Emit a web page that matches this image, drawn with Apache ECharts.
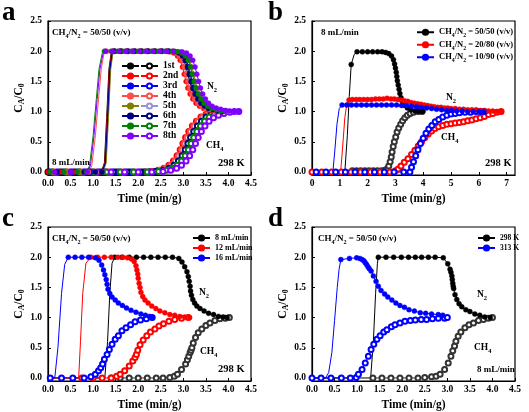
<!DOCTYPE html>
<html><head><meta charset="utf-8">
<script src="https://cdn.jsdelivr.net/npm/echarts@6/dist/echarts.min.js"></script>
<style>html,body{margin:0;padding:0;background:#fff}#c{width:529px;height:412px}</style>
</head><body><div id="c"></div>
<script>
// ---------- tick values ----------
const xTicksA = [0,0.5,1,1.5,2,2.5,3,3.5,4,4.5];
const xTicksB = [0,1,2,3,4,5,6,7];
const yTicks = [0,0.5,1,1.5,2,2.5];

// ---------- panel a (8 cycles) ----------
const aNames = ['1st','2nd','3rd','4th','5th','6th','7th','8th'];
const aN2_1 = [[0,0],[0.3,0],[0.6,0],[0.9,0],[1.18,0],[1.45,2],[1.6,2],[1.75,2],[1.9,2],[2.05,2],[2.2,2],[2.35,2],[2.5,2],[2.65,2],[2.77,1.99],[2.87,1.97],[2.95,1.92],[3.01,1.85],[3.06,1.74],[3.1,1.62],[3.14,1.5],[3.18,1.39],[3.23,1.29],[3.29,1.21],[3.36,1.14],[3.44,1.09],[3.53,1.05],[3.63,1.03],[3.73,1.01],[3.83,1.0]];
const aRise_1 = [[1.25,0.15],[1.3,0.9],[1.35,1.7],[1.4,1.97]];
const aCH4_1 = [[0,0],[0.3,0],[0.6,0],[0.9,0],[1.2,0],[1.5,0],[1.8,0],[2.1,0],[2.35,0.01],[2.52,0.03],[2.65,0.06],[2.76,0.11],[2.86,0.18],[2.94,0.27],[3.01,0.37],[3.07,0.47],[3.13,0.57],[3.2,0.67],[3.28,0.76],[3.37,0.84],[3.47,0.91],[3.58,0.95],[3.7,0.98],[3.83,1.0]];
const aN2_2 = [[0,0],[0.3,0],[0.6,0],[0.9,0],[1.19,0],[1.46,2],[1.61,2],[1.76,2],[1.91,2],[2.06,2],[2.21,2],[2.36,2],[2.51,2],[2.69,1.99],[2.79,1.97],[2.87,1.92],[2.93,1.85],[2.98,1.74],[3.02,1.62],[3.06,1.5],[3.1,1.39],[3.15,1.29],[3.21,1.21],[3.28,1.14],[3.36,1.09],[3.45,1.05],[3.55,1.03],[3.65,1.01],[3.75,1.0]];
const aRise_2 = [[1.26,0.15],[1.31,0.9],[1.36,1.7],[1.41,1.97]];
const aCH4_2 = [[0.1,0],[0.4,0],[0.7,0],[1.0,0],[1.3,0],[1.6,0],[1.9,0],[2.15,0],[2.27,0.01],[2.44,0.03],[2.57,0.06],[2.68,0.11],[2.78,0.18],[2.86,0.27],[2.93,0.37],[2.99,0.47],[3.05,0.57],[3.12,0.67],[3.2,0.76],[3.29,0.84],[3.39,0.91],[3.5,0.95],[3.62,0.98],[3.75,1.0]];
const aN2_3 = [[0.05,0],[0.35,0],[0.65,0],[0.95,0],[1.21,0],[1.48,2],[1.63,2],[1.78,2],[1.93,2],[2.08,2],[2.23,2],[2.38,2],[2.53,2],[2.68,2],[2.83,1.99],[2.93,1.97],[3.01,1.92],[3.07,1.85],[3.12,1.74],[3.16,1.62],[3.2,1.5],[3.24,1.39],[3.29,1.29],[3.35,1.21],[3.42,1.14],[3.5,1.09],[3.59,1.05],[3.69,1.03],[3.79,1.01],[3.89,1.0]];
const aRise_3 = [[1.28,0.15],[1.33,0.9],[1.38,1.7],[1.43,1.97]];
const aCH4_3 = [[0.05,0],[0.35,0],[0.65,0],[0.95,0],[1.25,0],[1.55,0],[1.85,0],[2.15,0],[2.41,0.01],[2.58,0.03],[2.71,0.06],[2.82,0.11],[2.92,0.18],[3.0,0.27],[3.07,0.37],[3.13,0.47],[3.19,0.57],[3.26,0.67],[3.34,0.76],[3.43,0.84],[3.53,0.91],[3.64,0.95],[3.76,0.98],[3.89,1.0]];
const aN2_4 = [[0.1,0],[0.4,0],[0.7,0],[0.9,0],[1.3,2],[1.45,2],[1.6,2],[1.75,2],[1.9,2],[2.05,2],[2.2,2],[2.35,2],[2.5,2],[2.62,2],[2.73,1.99],[2.83,1.97],[2.91,1.92],[2.97,1.85],[3.02,1.74],[3.06,1.62],[3.1,1.5],[3.14,1.39],[3.19,1.29],[3.25,1.21],[3.32,1.14],[3.4,1.09],[3.49,1.05],[3.59,1.03],[3.69,1.01],[3.79,1.0]];
const aRise_4 = [[0.97,0.1],[1.05,0.6],[1.12,1.2],[1.18,1.7],[1.24,1.96]];
const aCH4_4 = [[0.15,0],[0.45,0],[0.75,0],[1.05,0],[1.35,0],[1.65,0],[1.95,0],[2.2,0],[2.31,0.01],[2.48,0.03],[2.61,0.06],[2.72,0.11],[2.82,0.18],[2.9,0.27],[2.97,0.37],[3.03,0.47],[3.09,0.57],[3.16,0.67],[3.24,0.76],[3.33,0.84],[3.43,0.91],[3.54,0.95],[3.66,0.98],[3.79,1.0]];
const aN2_5 = [[0.15,0],[0.45,0],[0.75,0],[1.05,0],[1.22,0],[1.49,2],[1.64,2],[1.79,2],[1.94,2],[2.09,2],[2.24,2],[2.39,2],[2.54,2],[2.69,2],[2.8,2],[2.9,1.99],[3.0,1.97],[3.08,1.92],[3.14,1.85],[3.19,1.74],[3.23,1.62],[3.27,1.5],[3.31,1.39],[3.36,1.29],[3.42,1.21],[3.49,1.14],[3.57,1.09],[3.66,1.05],[3.76,1.03],[3.86,1.01],[3.96,1.0]];
const aRise_5 = [[1.29,0.15],[1.34,0.9],[1.39,1.7],[1.44,1.97]];
const aCH4_5 = [[0.2,0],[0.5,0],[0.8,0],[1.1,0],[1.4,0],[1.7,0],[2.0,0],[2.25,0],[2.48,0.01],[2.65,0.03],[2.78,0.06],[2.89,0.11],[2.99,0.18],[3.07,0.27],[3.14,0.37],[3.2,0.47],[3.26,0.57],[3.33,0.67],[3.41,0.76],[3.5,0.84],[3.6,0.91],[3.71,0.95],[3.83,0.98],[3.96,1.0]];
const aN2_6 = [[0.2,0],[0.5,0],[0.8,0],[1.05,0],[1.2,0],[1.47,2],[1.62,2],[1.77,2],[1.92,2],[2.07,2],[2.22,2],[2.37,2],[2.52,2],[2.67,2],[2.8,1.99],[2.9,1.97],[2.98,1.92],[3.04,1.85],[3.09,1.74],[3.13,1.62],[3.17,1.5],[3.21,1.39],[3.26,1.29],[3.32,1.21],[3.39,1.14],[3.47,1.09],[3.56,1.05],[3.66,1.03],[3.76,1.01],[3.86,1.0]];
const aRise_6 = [[1.27,0.15],[1.32,0.9],[1.37,1.7],[1.42,1.97]];
const aCH4_6 = [[0.25,0],[0.55,0],[0.85,0],[1.15,0],[1.45,0],[1.75,0],[2.05,0],[2.25,0],[2.38,0.01],[2.55,0.03],[2.68,0.06],[2.79,0.11],[2.89,0.18],[2.97,0.27],[3.04,0.37],[3.1,0.47],[3.16,0.57],[3.23,0.67],[3.31,0.76],[3.4,0.84],[3.5,0.91],[3.61,0.95],[3.73,0.98],[3.86,1.0]];
const aN2_7 = [[0.05,0],[0.35,0],[0.65,0],[0.85,0],[1.25,2],[1.4,2],[1.55,2],[1.7,2],[1.85,2],[2.0,2],[2.15,2],[2.3,2],[2.45,2],[2.6,2],[2.75,2],[2.87,1.99],[2.97,1.97],[3.05,1.92],[3.11,1.85],[3.16,1.74],[3.2,1.62],[3.24,1.5],[3.28,1.39],[3.33,1.29],[3.39,1.21],[3.46,1.14],[3.54,1.09],[3.63,1.05],[3.73,1.03],[3.83,1.01],[3.93,1.0]];
const aRise_7 = [[0.92,0.1],[1.0,0.6],[1.07,1.2],[1.13,1.7],[1.2,1.96]];
const aCH4_7 = [[0.1,0],[0.4,0],[0.7,0],[1.0,0],[1.3,0],[1.6,0],[1.9,0],[2.2,0],[2.45,0.01],[2.62,0.03],[2.75,0.06],[2.86,0.11],[2.96,0.18],[3.04,0.27],[3.11,0.37],[3.17,0.47],[3.23,0.57],[3.3,0.67],[3.38,0.76],[3.47,0.84],[3.57,0.91],[3.68,0.95],[3.8,0.98],[3.93,1.0]];
const aN2_8 = [[0.15,0],[0.5,0],[0.87,0],[1.28,2],[1.43,2],[1.58,2],[1.73,2],[1.88,2],[2.03,2],[2.18,2],[2.33,2],[2.48,2],[2.63,2],[2.78,2],[2.97,1.99],[3.07,1.97],[3.15,1.92],[3.21,1.85],[3.26,1.74],[3.3,1.62],[3.34,1.5],[3.38,1.39],[3.43,1.29],[3.49,1.21],[3.56,1.14],[3.64,1.09],[3.73,1.06],[3.83,1.04],[3.93,1.02],[4.03,1.01],[4.13,1.0],[4.23,1.0]];
const aRise_8 = [[0.94,0.1],[1.02,0.6],[1.09,1.2],[1.15,1.7],[1.22,1.96]];
const aCH4_8 = [[0.2,0],[0.5,0],[0.8,0],[1.1,0],[1.4,0],[1.7,0],[2.0,0],[2.3,0],[2.55,0.01],[2.72,0.03],[2.85,0.06],[2.96,0.11],[3.06,0.18],[3.14,0.27],[3.21,0.37],[3.27,0.47],[3.33,0.57],[3.4,0.67],[3.48,0.76],[3.57,0.84],[3.67,0.9],[3.78,0.94],[3.9,0.97],[4.03,0.99],[4.13,1.0],[4.23,1.0]];

// ---------- panel b (feed composition) ----------
const bNames = ['CH4/N2 = 50/50 (v/v)','CH4/N2 = 20/80 (v/v)','CH4/N2 = 10/90 (v/v)'];
const bN2_50 = [[1.41,1.78],[1.62,1.99],[1.81,1.99],[2.0,1.99],[2.18,1.99],[2.36,1.99],[2.52,1.99],[2.65,1.98],[2.76,1.96],[2.86,1.92],[2.93,1.86],[2.97,1.79],[3.0,1.72],[3.03,1.65],[3.05,1.58],[3.07,1.51],[3.1,1.44],[3.13,1.37],[3.16,1.3],[3.2,1.23],[3.26,1.16],[3.34,1.1],[3.43,1.06],[3.55,1.03],[3.7,1.01],[3.85,1.0],[3.99,1.0]];
const bRise_50 = [[0,0],[1.18,0],[1.27,0.6],[1.34,1.25],[1.52,1.95]];
const bCH4_50 = [[1.45,0.02],[1.6,0.02],[1.75,0.02],[1.9,0.02],[2.05,0.02],[2.2,0.02],[2.35,0.02],[2.5,0.02],[2.62,0.03],[2.7,0.05],[2.76,0.1],[2.81,0.17],[2.85,0.25],[2.88,0.33],[2.92,0.42],[2.96,0.5],[3.01,0.58],[3.06,0.66],[3.12,0.73],[3.19,0.79],[3.26,0.85],[3.34,0.9],[3.43,0.94],[3.53,0.97],[3.65,0.99],[3.8,1.0],[3.95,1.0]];
const bN2_20 = [[1.33,1.19],[1.45,1.2],[1.59,1.2],[1.72,1.2],[1.86,1.2],[2.0,1.2],[2.14,1.2],[2.28,1.21],[2.42,1.21],[2.56,1.21],[2.7,1.22],[2.84,1.21],[2.96,1.21],[3.08,1.2],[3.2,1.19],[3.32,1.18],[3.44,1.17],[3.56,1.15],[3.68,1.14],[3.8,1.13],[3.92,1.12],[4.04,1.11],[4.16,1.1],[4.28,1.09],[4.4,1.08],[4.52,1.07],[4.64,1.07],[4.76,1.06],[4.88,1.06],[5.0,1.05],[5.15,1.05],[5.3,1.04],[5.45,1.04],[5.6,1.03],[5.75,1.03],[5.9,1.03],[6.05,1.02],[6.2,1.02],[6.35,1.01],[6.5,1.01],[6.65,1.0],[6.8,1.0]];
const bRise_20 = [[0,0],[1.03,0],[1.1,0.4],[1.18,0.9],[1.26,1.15]];
const bCH4_20 = [[0,0],[0.35,0],[0.7,0],[1.05,0],[1.4,0],[1.75,0],[2.1,0],[2.45,0],[2.8,0],[3.0,0.02],[3.1,0.05],[3.2,0.1],[3.32,0.16],[3.45,0.22],[3.58,0.29],[3.7,0.36],[3.82,0.43],[3.94,0.5],[4.06,0.57],[4.18,0.63],[4.3,0.68],[4.42,0.72],[4.55,0.75],[4.7,0.77],[4.85,0.79],[5.0,0.8],[5.15,0.81],[5.3,0.82],[5.45,0.83],[5.6,0.85],[5.75,0.86],[5.9,0.88],[6.05,0.9],[6.2,0.92],[6.35,0.95],[6.5,0.97],[6.65,0.99],[6.8,1.0]];
const bN2_10 = [[1.08,1.11],[1.25,1.11],[1.42,1.11],[1.6,1.11],[1.78,1.11],[1.96,1.11],[2.14,1.11],[2.32,1.11],[2.5,1.11],[2.68,1.11],[2.86,1.11],[3.04,1.11],[3.22,1.1],[3.4,1.1],[3.58,1.09],[3.76,1.08],[3.94,1.07],[4.12,1.06],[4.3,1.05],[4.48,1.04],[4.66,1.03],[4.84,1.02],[5.02,1.02],[5.2,1.01],[5.4,1.01],[5.6,1.0],[5.8,1.0],[6.0,1.0],[6.18,1.0]];
const bRise_10 = [[0,0],[0.75,0],[0.82,0.35],[0.9,0.8],[0.98,1.05]];
const bCH4_10 = [[0.15,0],[0.5,0],[0.85,0],[1.2,0],[1.55,0],[1.9,0],[2.25,0],[2.6,0],[2.95,0],[3.3,0],[3.52,0],[3.58,0.08],[3.65,0.17],[3.73,0.27],[3.81,0.37],[3.9,0.47],[4.0,0.56],[4.1,0.64],[4.2,0.71],[4.31,0.77],[4.43,0.83],[4.56,0.87],[4.7,0.91],[4.85,0.94],[5.0,0.96],[5.15,0.97],[5.3,0.98],[5.5,0.99],[5.7,0.99],[5.9,1.0],[6.05,1.0],[6.2,1.0]];

// ---------- panel c (flow rate) ----------
const cNames = ['8 mL/min','12 mL/min','16 mL/min'];
const cN2_8 = [[1.48,2],[1.64,2],[1.8,2],[1.96,2],[2.12,2],[2.28,2],[2.44,2],[2.6,2],[2.76,2],[2.9,1.98],[2.97,1.92],[3.03,1.84],[3.08,1.76],[3.11,1.68],[3.13,1.6],[3.15,1.52],[3.16,1.44],[3.18,1.37],[3.21,1.3],[3.25,1.24],[3.3,1.19],[3.37,1.15],[3.46,1.11],[3.56,1.07],[3.67,1.05],[3.78,1.02],[3.88,1.01],[3.97,1.0]];
const cRise_8 = [[0,0],[1.26,0],[1.32,0.6],[1.37,1.4],[1.42,1.9]];
const cCH4_8 = [[1.4,0],[1.6,0],[1.8,0],[2.0,0],[2.2,0],[2.4,0],[2.55,0],[2.7,0.01],[2.8,0.03],[2.87,0.06],[2.96,0.14],[3.05,0.23],[3.09,0.3],[3.12,0.36],[3.15,0.42],[3.17,0.46],[3.19,0.5],[3.22,0.58],[3.27,0.67],[3.33,0.75],[3.41,0.81],[3.5,0.87],[3.59,0.91],[3.7,0.95],[3.81,0.98],[3.93,0.99],[4.02,1.0]];
const cN2_12 = [[0.95,2],[1.1,2],[1.25,2],[1.4,2],[1.55,2],[1.66,2],[1.76,1.99],[1.85,1.97],[1.91,1.93],[1.95,1.86],[1.97,1.79],[1.99,1.72],[2.0,1.65],[2.02,1.57],[2.04,1.5],[2.06,1.42],[2.1,1.35],[2.15,1.29],[2.22,1.24],[2.3,1.19],[2.39,1.15],[2.48,1.11],[2.59,1.08],[2.7,1.05],[2.81,1.04],[2.92,1.02],[3.03,1.01],[3.14,1.0]];
const cRise_12 = [[0,0],[0.68,0],[0.72,0.6],[0.77,1.4],[0.84,1.9]];
const cCH4_12 = [[0.75,0],[1.0,0],[1.2,0],[1.4,0],[1.52,0.03],[1.6,0.06],[1.7,0.12],[1.8,0.2],[1.88,0.28],[1.93,0.34],[1.96,0.39],[1.99,0.46],[2.04,0.55],[2.11,0.63],[2.19,0.7],[2.27,0.76],[2.37,0.81],[2.46,0.86],[2.56,0.9],[2.68,0.94],[2.81,0.97],[2.96,0.99],[3.11,1.0]];
const cN2_16 = [[0.45,2],[0.6,2],[0.75,2],[0.9,2],[1.05,1.99],[1.13,1.95],[1.19,1.87],[1.23,1.79],[1.26,1.71],[1.29,1.63],[1.31,1.55],[1.33,1.47],[1.37,1.4],[1.42,1.34],[1.49,1.29],[1.56,1.24],[1.65,1.2],[1.74,1.16],[1.84,1.12],[1.95,1.09],[2.06,1.06],[2.16,1.04],[2.25,1.02],[2.31,1.0]];
const cRise_16 = [[0,0],[0.15,0],[0.22,0.5],[0.3,1.4],[0.37,1.88]];
const cCH4_16 = [[0.05,0],[0.3,0],[0.55,0],[0.8,0],[0.95,0.02],[1.05,0.06],[1.12,0.12],[1.17,0.17],[1.21,0.23],[1.25,0.31],[1.31,0.39],[1.36,0.47],[1.42,0.56],[1.49,0.64],[1.56,0.7],[1.64,0.78],[1.73,0.83],[1.83,0.88],[1.93,0.93],[2.05,0.96],[2.18,0.98],[2.31,1.0]];

// ---------- panel d (temperature) ----------
const dNames = ['298 K','313 K'];
const dN2_298 = [[1.47,2],[1.64,2],[1.81,2],[1.98,2],[2.14,2],[2.29,2],[2.43,2],[2.58,2],[2.73,2],[2.91,1.99],[3.01,1.89],[3.06,1.8],[3.08,1.75],[3.1,1.69],[3.11,1.63],[3.12,1.57],[3.13,1.52],[3.14,1.48],[3.17,1.38],[3.21,1.3],[3.26,1.23],[3.32,1.18],[3.41,1.13],[3.5,1.1],[3.61,1.06],[3.72,1.04],[3.83,1.01],[3.95,1.0]];
const dRise_298 = [[0,0],[1.3,0],[1.36,0.6],[1.41,1.4],[1.45,1.9]];
const dCH4_298 = [[1.35,0],[1.55,0],[1.75,0],[1.95,0],[2.15,0],[2.35,0],[2.5,0.01],[2.65,0.02],[2.75,0.03],[2.84,0.06],[2.94,0.14],[3.02,0.25],[3.08,0.36],[3.12,0.45],[3.16,0.53],[3.19,0.61],[3.24,0.69],[3.3,0.76],[3.39,0.83],[3.48,0.88],[3.58,0.91],[3.69,0.95],[3.8,0.97],[3.91,0.99],[4.0,1.0]];
const dN2_313 = [[0.64,1.96],[0.83,1.98],[0.99,1.99],[1.06,1.98],[1.11,1.96],[1.15,1.94],[1.18,1.91],[1.21,1.88],[1.24,1.84],[1.27,1.81],[1.31,1.77],[1.36,1.69],[1.42,1.6],[1.47,1.52],[1.53,1.45],[1.61,1.39],[1.68,1.34],[1.77,1.29],[1.86,1.24],[1.95,1.2],[2.05,1.17],[2.15,1.13],[2.27,1.11],[2.4,1.08],[2.52,1.07],[2.65,1.06],[2.8,1.05],[2.9,1.04]];
const dRise_313 = [[0,0],[0.3,0],[0.37,0.09],[0.44,0.42],[0.5,0.95],[0.56,1.5],[0.6,1.8]];
const dCH4_313 = [[0,0],[0.2,0],[0.42,0],[0.65,0],[0.85,0],[0.98,0.01],[1.03,0.06],[1.11,0.14],[1.18,0.25],[1.25,0.36],[1.31,0.47],[1.37,0.56],[1.44,0.64],[1.51,0.7],[1.59,0.76],[1.66,0.8],[1.76,0.85],[1.84,0.88],[1.95,0.91],[2.06,0.94],[2.18,0.95],[2.29,0.96],[2.42,0.97],[2.54,0.97],[2.67,0.98],[2.8,0.99],[2.94,0.99],[3.0,1.0]];

// ---------- styling ----------
const FONT = '"Liberation Serif","Times New Roman",serif';
const aColN2 = ['#000000','#ff0000','#0000ff','#ff4d4d','#808000','#000080','#008000','#8000ff'];
const aColCH4 = ['#000000','#ff0000','#0000ff','#ff4d4d','#9b8fe0','#000080','#008000','#8000ff'];
const trio = ['#000000','#ff0000','#0000ff'];
const trioOpen = ['#333333','#ff0000','#0000ff'];

const grids = [
  {left:48, top:21, width:203, height:154},
  {left:312, top:21, width:203, height:154},
  {left:48, top:227, width:203, height:154},
  {left:312, top:227, width:203, height:154}
];

function subRich(size){
  return {s:{fontSize:size*0.68, fontFamily:FONT, fontWeight:'bold', color:'#000', verticalAlign:'bottom', lineHeight:size*0.68}};
}
function subify(str){ return str.replace(/CH4/g,'CH{s|4}').replace(/N2/g,'N{s|2}'); }

function xAxisFor(i, max, ticks, digits){
  return {gridIndex:i, type:'value', min:0, max:max,
    axisLine:{show:true, onZero:false, lineStyle:{color:'#000', width:1.2}},
    axisTick:{show:true, inside:true, length:3, customValues:ticks, lineStyle:{color:'#000', width:1}},
    axisLabel:{customValues:ticks, formatter:v=>v.toFixed(digits), color:'#000', fontFamily:FONT, fontWeight:'bold', fontSize:9.5, margin:4},
    splitLine:{show:false},
    name:'Time (min/g)', nameLocation:'middle', nameGap:18,
    nameTextStyle:{color:'#000', fontFamily:FONT, fontWeight:'bold', fontSize:11.5}};
}
function yAxisFor(i){
  return {gridIndex:i, type:'value', min:-0.05, max:2.5,
    axisLine:{show:true, onZero:false, lineStyle:{color:'#000', width:1.2}},
    axisTick:{show:true, inside:true, length:3, customValues:yTicks, lineStyle:{color:'#000', width:1}},
    axisLabel:{customValues:yTicks, formatter:v=>v.toFixed(1), color:'#000', fontFamily:FONT, fontWeight:'bold', fontSize:9.5, margin:6},
    splitLine:{show:false},
    name:'C{s|A}/C{s|0}', nameLocation:'middle', nameGap:21,
    nameTextStyle:{color:'#000', fontFamily:FONT, fontWeight:'bold', fontSize:11.5, lineHeight:14, rich:subRich(11.5)}};
}

function curve(name, gi, color, markers, rise, open){
  let data = markers.map(p=>({value:p}));
  if (rise) data = data.concat(rise.map(p=>({value:p, symbol:'none'})));
  data.sort((a,b)=>a.value[0]-b.value[0]);
  return {type:'line', name:name, xAxisIndex:gi, yAxisIndex:gi, data:data,
    symbol: open ? 'emptyCircle' : 'circle', symbolSize: 5,
    lineStyle:{color:color, width:1}, itemStyle:{color:color, borderColor:color, borderWidth: open ? 0.7 : 0.4},
    emphasis:{disabled:true}, silent:true, animation:false};
}

const series = [];
const aN2 = [aN2_1,aN2_2,aN2_3,aN2_4,aN2_5,aN2_6,aN2_7,aN2_8];
const aRise = [aRise_1,aRise_2,aRise_3,aRise_4,aRise_5,aRise_6,aRise_7,aRise_8];
const aCH4 = [aCH4_1,aCH4_2,aCH4_3,aCH4_4,aCH4_5,aCH4_6,aCH4_7,aCH4_8];
for (let k=0;k<8;k++){
  series.push(curve('a CH4 '+aNames[k], 0, aColCH4[k], aCH4[k], null, true));
}
for (let k=0;k<8;k++){
  series.push(curve('a N2 '+aNames[k], 0, aColN2[k], aN2[k], aRise[k], false));
}
const bN2 = [bN2_50,bN2_20,bN2_10], bRise=[bRise_50,bRise_20,bRise_10], bCH4=[bCH4_50,bCH4_20,bCH4_10];
for (let k=0;k<3;k++) series.push(curve('b CH4 '+k, 1, trioOpen[k], bCH4[k], null, true));
for (let k=0;k<3;k++) series.push(curve(bNames[k], 1, trio[k], bN2[k], bRise[k], false));
const cN2 = [cN2_8,cN2_12,cN2_16], cRise=[cRise_8,cRise_12,cRise_16], cCH4=[cCH4_8,cCH4_12,cCH4_16];
for (let k=0;k<3;k++) series.push(curve('c CH4 '+k, 2, trioOpen[k], cCH4[k], null, true));
for (let k=0;k<3;k++) series.push(curve(cNames[k], 2, trio[k], cN2[k], cRise[k], false));
const dN2 = [dN2_298,dN2_313], dRise=[dRise_298,dRise_313], dCH4=[dCH4_298,dCH4_313];
const dCol = ['#000000','#0000ff'], dColOpen = ['#333333','#0000ff'];
for (let k=0;k<2;k++) series.push(curve('d CH4 '+k, 3, dColOpen[k], dCH4[k], null, true));
for (let k=0;k<2;k++) series.push(curve(dNames[k], 3, dCol[k], dN2[k], dRise[k], false));

const legTxt = (size, lh) => ({color:'#000', fontFamily:FONT, fontWeight:'bold', fontSize:size, lineHeight:lh, rich:subRich(size)});
const legendBase = {orient:'vertical', padding:0, itemGap:0, itemWidth:17, itemHeight:6.5, itemTextGap:3, selectedMode:false};
const legends = [
  Object.assign({}, legendBase, {left:121, top:61, data:aNames.map(n=>'a N2 '+n), formatter:()=>' ', textStyle:legTxt(9.5,10)}),
  Object.assign({}, legendBase, {left:140, top:61, data:aNames.map(n=>'a CH4 '+n), formatter:n=>n.replace('a CH4 ',''), textStyle:legTxt(9.5,10)}),
  Object.assign({}, legendBase, {left:416, top:26, itemTextGap:2, data:bNames, formatter:n=>subify(n), textStyle:legTxt(8.5,12.5)}),
  Object.assign({}, legendBase, {left:192, top:233, itemTextGap:2, data:cNames, textStyle:legTxt(8,10)}),
  Object.assign({}, legendBase, {left:477, top:233, itemTextGap:2, data:dNames, textStyle:legTxt(7.5,10)})
];

function T(x,y,str,size){
  return {type:'text', x:x, y:y, silent:true, z:100,
    style:{text:subify(str), font:'bold '+size+'px '+FONT, fill:'#000', align:'left', verticalAlign:'middle', lineHeight:size+3, rich:subRich(size)}};
}
function L(x,y,str){
  return {type:'text', x:x, y:y, silent:true, z:100, style:{text:str, font:'bold 27px '+FONT, fill:'#000', align:'left', verticalAlign:'middle'}};
}
const graphics = [
  L(2,13,'a'), L(268,13,'b'), L(2,219,'c'), L(268,219,'d'),
  T(52,33,'CH4/N2 = 50/50 (v/v)',9), T(52,163,'8 mL/min',9), T(218,163,'298 K',10.5), T(207,87,'N2',9.5), T(206,146,'CH4',9.5),
  T(321,33,'8 mL/min',9), T(446,98,'N2',9.5), T(441,138,'CH4',9.5), T(485,163,'298 K',10.5),
  T(52,239,'CH4/N2 = 50/50 (v/v)',9), T(199,293,'N2',9.5), T(200,352,'CH4',9.5), T(218,369,'298 K',10.5),
  T(318,239,'CH4/N2 = 50/50 (v/v)',9), T(477,295,'N2',9.5), T(474,348,'CH4',9.5), T(477,370,'8 mL/min',9)
];

const chart = echarts.init(document.getElementById('c'), null, {renderer:'canvas'});
chart.setOption({
  animation:false,
  backgroundColor:'#fff',
  grid: grids.map(g=>Object.assign({show:true, borderColor:'#000', borderWidth:1.2, containLabel:false}, g)),
  xAxis:[xAxisFor(0,4.5,xTicksA,1), xAxisFor(1,7.3,xTicksB,0), xAxisFor(2,4.5,xTicksA,1), xAxisFor(3,4.5,xTicksA,1)],
  yAxis:[yAxisFor(0), yAxisFor(1), yAxisFor(2), yAxisFor(3)],
  legend: legends,
  series: series,
  graphic: graphics
});
</script></body></html>
